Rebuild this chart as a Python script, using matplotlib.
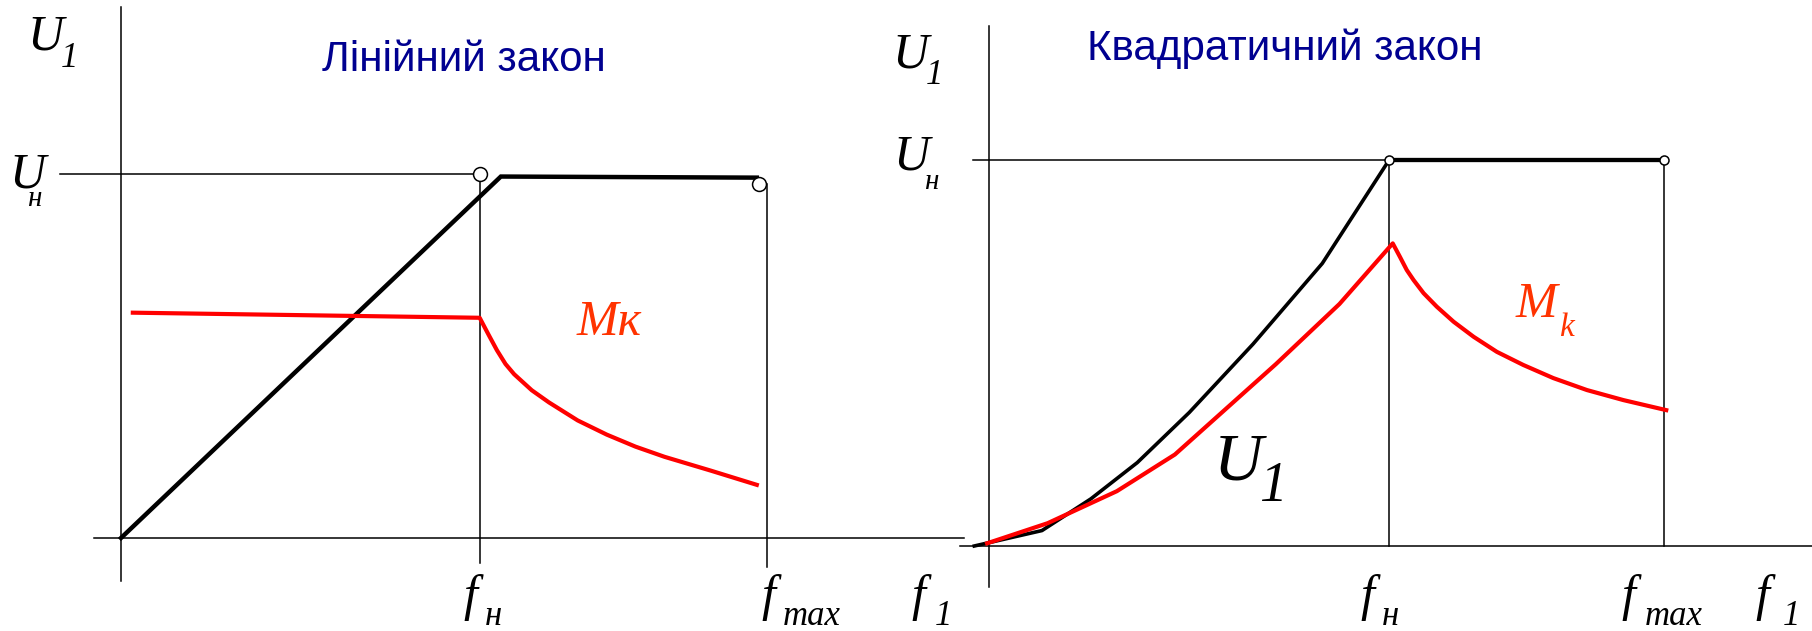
import matplotlib.pyplot as plt

W, H = 1812, 631

# Linear law panel (f in units of fн, U in units of Uн)
lin_fmax = 1.80
lin_u1_f = [0.0, 1.058, 1.771]
lin_u1_v = [0.0, 0.993, 0.990]
lin_mk_f = [0.033, 0.999, 1.023, 1.047, 1.071, 1.095, 1.144, 1.192, 1.272,
            1.353, 1.433, 1.514, 1.643, 1.771]
lin_mk_v = [0.619, 0.605, 0.560, 0.516, 0.478, 0.450, 0.406, 0.3725, 0.323,
            0.284, 0.251, 0.223, 0.185, 0.146]
lin_marks_f = [1.0, 1.777]
lin_marks_v = [1.0, 0.972]

# Square law panel
sq_fmax = 1.687
sq_u1_f = [-0.036, 0.133, 0.255, 0.371, 0.501, 0.660, 0.833, 1.0, sq_fmax]
sq_u1_v = [0.0, 0.040, 0.122, 0.216, 0.346, 0.523, 0.732, 1.0, 1.0]
sq_mk_f = [-0.004, 0.147, 0.320, 0.465, 0.717, 0.876, 1.009, 1.027, 1.044,
           1.061, 1.086, 1.119, 1.161, 1.211, 1.269, 1.335, 1.410, 1.494,
           1.585, 1.692]
sq_mk_v = [0.007, 0.059, 0.142, 0.237, 0.471, 0.627, 0.784, 0.749, 0.715,
           0.689, 0.655, 0.620, 0.581, 0.542, 0.503, 0.469, 0.435, 0.404,
           0.378, 0.352]
sq_marks_f = [1.0, sq_fmax]
sq_marks_v = [1.0, 1.0]

THIN = 1.1
serif = dict(family='Liberation Serif', style='italic')
RED_TXT = '#ff3300'
NAVY = '#000090'

fig = plt.figure(figsize=(W / 100, H / 100), dpi=100)

ax1 = fig.add_axes([0, 0, 1, 1])
ax1.set_xlim(-0.337, 4.710)
ax1.set_ylim(-0.2555, 1.478)
ax1.axis('off')

ax2 = fig.add_axes([0, 0, 1, 1])
ax2.set_xlim(-2.469, 2.056)
ax2.set_ylim(-0.2202, 1.4145)
ax2.patch.set_alpha(0)
ax2.axis('off')

# --- linear law ---
ax1.plot([0, 0], [-0.118, 1.459], color='black', lw=THIN)
ax1.plot([-0.075, 2.348], [0, 0], color='black', lw=THIN)
ax1.plot([-0.171, 1.0], [1.0, 1.0], color='black', lw=THIN)
ax1.plot([1.0, 1.0], [1.0, -0.069], color='black', lw=THIN)
ax1.plot([lin_fmax, lin_fmax], [0.972, -0.080], color='black', lw=THIN)
ax1.plot(lin_u1_f, lin_u1_v, color='black', lw=3.2, solid_joinstyle='miter')
ax1.plot(lin_mk_f, lin_mk_v, color='#ff0000', lw=3.0)
ax1.plot(lin_marks_f, lin_marks_v, 'o', ms=10, mfc='white', mec='black',
         mew=1.1, zorder=5)

# --- square law ---
ax2.plot([0, 0], [-0.106, 1.347], color='black', lw=THIN)
ax2.plot([-0.071, 2.06], [0, 0], color='black', lw=THIN)
ax2.plot([-0.040, 1.0], [1.0, 1.0], color='black', lw=THIN)
ax2.plot([1.0, 1.0], [1.0, 0], color='black', lw=THIN)
ax2.plot([sq_fmax, sq_fmax], [1.0, 0], color='black', lw=THIN)
ax2.plot(sq_u1_f[:-1], sq_u1_v[:-1], color='black', lw=2.6)
ax2.plot(sq_u1_f[-2:], sq_u1_v[-2:], color='black', lw=3.1)
ax2.plot(sq_mk_f, sq_mk_v, color='#ff0000', lw=3.0)
ax2.plot(sq_marks_f, sq_marks_v, 'o', ms=6.5, mfc='white', mec='black',
         mew=1.1, zorder=5)


def put(x, y, s, size, color='black', **kw):
    """text with its baseline-left corner at pixel (x, y) from the top-left"""
    fig.text(x / W, 1 - y / H, s, fontsize=size, color=color,
             ha='left', va='baseline', **kw)


def sym(x, y, main, sub, size=36, subsize=25, sub_dx=30, sub_dy=17,
        color='black'):
    put(x, y, main, size, color, **serif)
    if sub:
        put(x + sub_dx, y + sub_dy, sub, subsize, color, **serif)


put(322, 71, 'Лінійний закон', 30.3, NAVY, family='Liberation Sans')
put(1087, 60, 'Квадратичний закон', 30.3, NAVY, family='Liberation Sans')

sym(27, 50, 'U', '1', sub_dx=34)
sym(9, 187, 'U', 'н', subsize=21, sub_dx=18, sub_dy=19)
sym(892, 67, 'U', '1', sub_dx=34)
sym(893, 170, 'U', 'н', subsize=21, sub_dx=31, sub_dy=19)
sym(1214, 480, 'U', '1', size=49, subsize=40, sub_dx=45, sub_dy=21)

sym(577, 335, 'Mк', None, color=RED_TXT)
sym(1516, 317, 'M', 'k', subsize=24, sub_dx=43, sub_dy=19, color=RED_TXT)

sym(463, 610, 'f', 'н', subsize=25, sub_dx=22, sub_dy=15)
sym(761, 610, 'f', 'max', subsize=25, sub_dx=22, sub_dy=15)
sym(911, 610, 'f', '1', subsize=25, sub_dx=24, sub_dy=15)
sym(1360, 610, 'f', 'н', subsize=25, sub_dx=22, sub_dy=15)
sym(1621, 610, 'f', 'max', subsize=25, sub_dx=24, sub_dy=15)
sym(1755, 610, 'f', '1', subsize=25, sub_dx=28, sub_dy=15)

fig.savefig('out.png', dpi=100)
